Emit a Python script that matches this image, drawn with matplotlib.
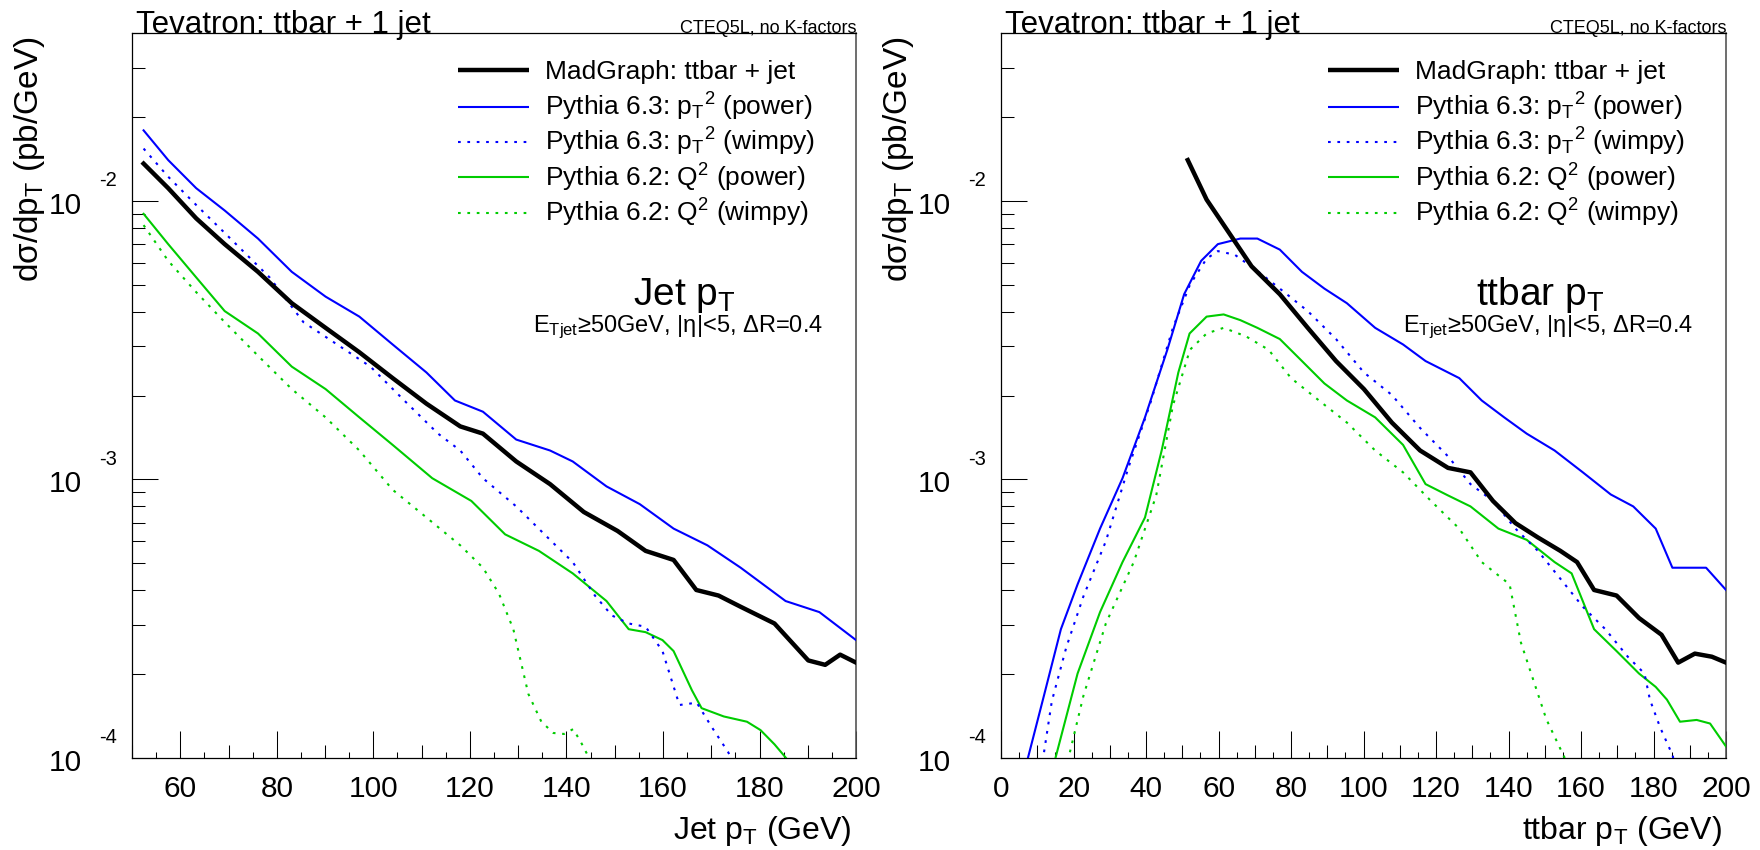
import matplotlib
matplotlib.use("Agg")
import matplotlib.pyplot as plt
import matplotlib.ticker as mticker
import numpy as np

plt.rcParams["font.family"] = ["Liberation Sans", "DejaVu Sans"]
plt.rcParams["mathtext.fontset"] = "custom"
plt.rcParams["mathtext.rm"] = "Liberation Sans"
plt.rcParams["mathtext.it"] = "Liberation Sans:italic"
plt.rcParams["mathtext.bf"] = "Liberation Sans:bold"

# ── palette / styles ─────────────────────────────────────────────────────
BLACK = "#000000"
BLUE = "#0000ff"
GREEN = "#00cc00"
DOTTED = (0, (1.3, 3.2))
TICK_W = 0.75

# ── data: left panel, jet pT ────────────────────────────────────────────
jet_mg_x = [52.4, 57.5, 63.3, 69.2, 76.1, 83.1, 90.1, 97.1, 104.0, 111.0, 118.0, 122.7,
            129.6, 136.6, 143.6, 150.6, 156.4, 162.2, 166.9, 171.5, 176.1, 183.1, 190.1,
            193.6, 196.7, 200.0]
jet_mg_y = [1.36e-2, 1.11e-2, 8.65e-3, 6.99e-3, 5.56e-3, 4.29e-3, 3.50e-3, 2.86e-3, 2.31e-3,
            1.87e-3, 1.55e-3, 1.46e-3, 1.16e-3, 9.62e-4, 7.64e-4, 6.53e-4, 5.54e-4, 5.14e-4,
            4.01e-4, 3.83e-4, 3.49e-4, 3.04e-4, 2.24e-4, 2.16e-4, 2.35e-4, 2.20e-4]

jet_p63pow_x = [52.4, 57.5, 63.3, 69.2, 76.1, 83.1, 90.1, 97.1, 104.0, 111.0, 116.9, 122.7,
                129.6, 136.6, 141.3, 148.3, 155.2, 162.2, 169.2, 176.1, 185.4, 192.4, 200.0]
jet_p63pow_y = [1.79e-2, 1.40e-2, 1.11e-2, 9.23e-3, 7.32e-3, 5.56e-3, 4.53e-3, 3.84e-3, 3.05e-3,
                2.42e-3, 1.92e-3, 1.75e-3, 1.39e-3, 1.27e-3, 1.16e-3, 9.44e-4, 8.15e-4, 6.66e-4,
                5.80e-4, 4.82e-4, 3.66e-4, 3.34e-4, 2.65e-4]

jet_p63wim_x = [52.4, 57.5, 63.3, 69.2, 78.5, 85.5, 92.5, 99.4, 106.4, 113.4, 118.0, 122.7,
                129.6, 136.6, 141.3, 145.9, 149.4, 152.9, 156.4, 159.9, 163.4, 167.0, 170.0,
                173.5, 175.5]
jet_p63wim_y = [1.54e-2, 1.22e-2, 9.66e-3, 7.67e-3, 5.31e-3, 3.67e-3, 3.05e-3, 2.54e-3, 1.92e-3,
                1.46e-3, 1.27e-3, 1.01e-3, 8.00e-4, 6.07e-4, 5.05e-4, 3.83e-4, 3.25e-4, 3.04e-4,
                2.96e-4, 2.42e-4, 1.55e-4, 1.58e-4, 1.30e-4, 1.05e-4, 0.90e-4]

jet_p62pow_x = [52.4, 57.5, 63.3, 69.2, 76.1, 83.1, 90.1, 97.1, 104.0, 112.2, 120.3, 127.3,
                134.3, 141.3, 148.3, 152.9, 156.4, 159.9, 162.2, 166.0, 168.0, 172.6, 177.4,
                180.2, 183.1, 185.5, 187.0]
jet_p62pow_y = [8.98e-3, 6.99e-3, 5.31e-3, 4.02e-3, 3.34e-3, 2.54e-3, 2.11e-3, 1.67e-3, 1.33e-3,
                1.01e-3, 8.37e-4, 6.35e-4, 5.54e-4, 4.60e-4, 3.66e-4, 2.90e-4, 2.83e-4, 2.65e-4,
                2.42e-4, 1.75e-4, 1.51e-4, 1.41e-4, 1.35e-4, 1.26e-4, 1.12e-4, 1.00e-4, 0.90e-4]

jet_p62wim_x = [52.4, 57.5, 63.3, 69.2, 76.1, 83.1, 90.1, 97.1, 104.0, 111.0, 118.0, 122.7,
                126.0, 129.0, 132.1, 134.8, 137.3, 139.5, 141.4, 143.0, 144.7, 146.0]
jet_p62wim_y = [8.18e-3, 6.09e-3, 4.70e-3, 3.67e-3, 2.78e-3, 2.11e-3, 1.67e-3, 1.27e-3, 9.18e-4,
                7.30e-4, 5.80e-4, 4.82e-4, 3.90e-4, 2.90e-4, 1.70e-4, 1.35e-4, 1.23e-4, 1.22e-4,
                1.27e-4, 1.14e-4, 1.00e-4, 0.90e-4]

# ── data: right panel, ttbar pT ─────────────────────────────────────────
tt_mg_x = [51.5, 56.7, 62.9, 69.1, 76.9, 84.6, 92.4, 100.1, 107.8, 115.6, 123.3, 129.5, 135.7,
           141.9, 148.1, 154.3, 158.9, 163.6, 169.8, 176.0, 182.2, 186.8, 191.4, 196.1, 200.0]
tt_mg_y = [1.40e-2, 1.01e-2, 7.67e-3, 5.82e-3, 4.62e-3, 3.50e-3, 2.66e-3, 2.11e-3, 1.60e-3,
           1.27e-3, 1.10e-3, 1.06e-3, 8.37e-4, 6.97e-4, 6.19e-4, 5.54e-4, 5.05e-4, 4.01e-4,
           3.83e-4, 3.18e-4, 2.77e-4, 2.20e-4, 2.37e-4, 2.31e-4, 2.20e-4]

tt_p63pow_x = [7.0, 7.4, 11.8, 16.5, 21.1, 27.3, 33.5, 39.7, 45.9, 50.5, 55.2, 59.8, 66.0, 70.7,
               76.9, 83.0, 89.2, 95.4, 103.2, 110.9, 117.1, 126.4, 132.6, 138.8, 145.0, 152.7,
               160.5, 168.2, 174.4, 180.6, 185.2, 189.9, 194.5, 200.0]
tt_p63pow_y = [0.90e-4, 1.00e-4, 1.67e-4, 2.90e-4, 4.20e-4, 6.66e-4, 1.01e-3, 1.67e-3, 2.93e-3,
               4.62e-3, 6.09e-3, 6.99e-3, 7.32e-3, 7.32e-3, 6.68e-3, 5.56e-3, 4.84e-3, 4.29e-3,
               3.50e-3, 3.05e-3, 2.66e-3, 2.31e-3, 1.92e-3, 1.67e-3, 1.46e-3, 1.27e-3, 1.06e-3,
               8.83e-4, 8.00e-4, 6.66e-4, 4.82e-4, 4.82e-4, 4.82e-4, 4.01e-4]

tt_p63wim_x = [11.2, 11.6, 14.0, 18.0, 22.7, 28.9, 35.1, 41.3, 47.4, 52.1, 56.7, 59.8, 64.5,
               70.7, 76.9, 84.6, 92.4, 100.1, 107.8, 115.6, 123.3, 129.5, 135.7, 141.9, 148.1,
               154.3, 160.5, 166.7, 172.9, 177.5, 179.0, 181.8, 185.3, 186.0]
tt_p63wim_y = [0.90e-4, 1.00e-4, 1.60e-4, 2.50e-4, 3.80e-4, 6.00e-4, 1.10e-3, 1.90e-3, 3.50e-3,
               5.00e-3, 6.20e-3, 6.60e-3, 6.40e-3, 5.60e-3, 4.84e-3, 4.02e-3, 3.19e-3, 2.42e-3,
               2.01e-3, 1.53e-3, 1.21e-3, 9.62e-4, 8.37e-4, 6.66e-4, 5.54e-4, 4.40e-4, 3.49e-4,
               2.90e-4, 2.31e-4, 2.01e-4, 1.62e-4, 1.29e-4, 1.02e-4, 0.90e-4]

tt_p62pow_x = [14.6, 15.0, 21.1, 27.3, 33.5, 39.7, 44.3, 48.9, 52.0, 56.7, 61.4, 66.0, 70.7,
               76.9, 83.0, 89.2, 95.4, 103.2, 110.9, 117.1, 123.3, 129.5, 137.2, 145.0, 152.7,
               157.4, 163.6, 169.8, 176.0, 180.6, 183.7, 187.3, 191.9, 195.6, 200.0]
tt_p62pow_y = [0.90e-4, 1.00e-4, 2.01e-4, 3.34e-4, 5.05e-4, 7.30e-4, 1.27e-3, 2.42e-3, 3.34e-3,
               3.84e-3, 3.91e-3, 3.73e-3, 3.50e-3, 3.19e-3, 2.66e-3, 2.21e-3, 1.92e-3, 1.67e-3,
               1.33e-3, 9.62e-4, 8.76e-4, 8.00e-4, 6.66e-4, 6.07e-4, 5.05e-4, 4.60e-4, 2.90e-4,
               2.42e-4, 2.01e-4, 1.80e-4, 1.62e-4, 1.35e-4, 1.37e-4, 1.33e-4, 1.10e-4]

tt_p62wim_x = [18.3, 18.6, 22.7, 28.9, 36.6, 42.8, 47.4, 52.1, 56.7, 61.4, 67.6, 73.8, 80.0,
               87.7, 95.4, 103.2, 110.9, 118.6, 126.4, 132.6, 140.3, 143.4, 150.4, 155.5, 156.5]
tt_p62wim_y = [0.90e-4, 1.00e-4, 1.67e-4, 3.04e-4, 5.05e-4, 8.76e-4, 1.84e-3, 2.92e-3, 3.34e-3,
               3.50e-3, 3.26e-3, 2.92e-3, 2.31e-3, 1.92e-3, 1.60e-3, 1.27e-3, 1.06e-3, 8.37e-4,
               6.66e-4, 5.05e-4, 4.20e-4, 2.60e-4, 1.38e-4, 1.00e-4, 0.90e-4]

# ── legend / labels ─────────────────────────────────────────────────────
legend_labels = [
    "MadGraph: ttbar + jet",
    r"Pythia 6.3: p$_{\mathregular{T}}$$^{\mathregular{2}}$ (power)",
    r"Pythia 6.3: p$_{\mathregular{T}}$$^{\mathregular{2}}$ (wimpy)",
    r"Pythia 6.2: Q$^{\mathregular{2}}$ (power)",
    r"Pythia 6.2: Q$^{\mathregular{2}}$ (wimpy)",
]
series_styles = [
    dict(color=BLACK, lw=3.2, ls="-", zorder=5),
    dict(color=BLUE, lw=1.5, ls="-", zorder=4),
    dict(color=BLUE, lw=1.5, ls=DOTTED, zorder=4),
    dict(color=GREEN, lw=1.5, ls="-", zorder=3),
    dict(color=GREEN, lw=1.5, ls=DOTTED, zorder=3),
]
decades = [-4, -3, -2]


def style_axis(ax, xlim, xlabel):
    ax.set_yscale("log")
    ax.set_xlim(*xlim)
    ax.set_ylim(1e-4, 4e-2)

    # x: three tick levels like ROOT (20 / 10 / 5)
    ax.xaxis.set_major_locator(mticker.MultipleLocator(20))
    ax.xaxis.set_minor_locator(mticker.MultipleLocator(10))
    ax.tick_params(axis="x", which="major", direction="in", length=19.4, width=TICK_W,
                   labelsize=21.5, pad=12, top=False)
    ax.tick_params(axis="x", which="minor", direction="in", length=9.4, width=TICK_W, top=False)
    sec = ax.secondary_xaxis("bottom")
    sec.xaxis.set_major_locator(mticker.MultipleLocator(5))
    sec.tick_params(direction="in", length=4.3, width=TICK_W, labelbottom=False)
    sec.spines["bottom"].set_visible(False)

    # y: log ticks, labels drawn ROOT-style below
    ax.yaxis.set_major_locator(mticker.LogLocator(base=10, numticks=10))
    ax.yaxis.set_minor_locator(mticker.LogLocator(base=10, subs=np.arange(2, 10), numticks=10))
    ax.yaxis.set_major_formatter(mticker.NullFormatter())
    ax.yaxis.set_minor_formatter(mticker.NullFormatter())
    ax.tick_params(axis="y", which="major", direction="in", length=18.7, width=TICK_W, right=False)
    ax.tick_params(axis="y", which="minor", direction="in", length=9.4, width=TICK_W, right=False)

    for e in decades:
        ax.annotate("10", xy=(0, 10.0 ** e), xycoords=ax.get_yaxis_transform(),
                    xytext=(-50, -12.7), textcoords="offset pixels",
                    ha="right", va="baseline", fontsize=21.5)
        ax.annotate(f"{e}", xy=(0, 10.0 ** e), xycoords=ax.get_yaxis_transform(),
                    xytext=(-15, 14.7), textcoords="offset pixels",
                    ha="right", va="baseline", fontsize=14.5)

    for side in ["left", "bottom", "top"]:
        ax.spines[side].set_color("black")
        ax.spines[side].set_linewidth(0.9)
    ax.spines["right"].set_color("#555555")
    ax.spines["right"].set_linewidth(1.2)

    # titles (ROOT style, aligned to the end of the axes)
    ax.text(0.994, -0.1117, xlabel, transform=ax.transAxes, ha="right", va="baseline",
            fontsize=23)
    ax.text(-102 / 724, 0.996, r"d$\mathregular{\sigma}$/dp$_{\mathregular{T}}$ (pb/GeV)",
            transform=ax.transAxes, rotation=90, ha="center", va="top", fontsize=24)
    ax.text(0.006, 1.0, "Tevatron: ttbar + 1 jet", transform=ax.transAxes,
            ha="left", va="baseline", fontsize=22.5)
    ax.text(1.0, 1.0, "CTEQ5L, no K-factors", transform=ax.transAxes,
            ha="right", va="baseline", fontsize=13)


def draw_key(ax):
    rows = [0.949, 0.898, 0.850, 0.801, 0.752]
    for label, style, y in zip(legend_labels, series_styles, rows):
        ax.plot([0.4503, 0.5483], [y, y], transform=ax.transAxes, color=style["color"],
                lw=style["lw"], ls=style["ls"], solid_capstyle="butt", clip_on=False)
        ax.text(0.5704, y - 0.0124, label, transform=ax.transAxes, ha="left",
                va="baseline", fontsize=19)


def draw_panel(ax, series, xlim, xlabel, title):
    for (x, y), style in zip(series, series_styles):
        ax.plot(x, y, color=style["color"], lw=style["lw"], ls=style["ls"],
                zorder=style["zorder"], solid_joinstyle="round")
    style_axis(ax, xlim, xlabel)
    draw_key(ax)
    ax.text(1 - 121 / 725, 0.625, title, transform=ax.transAxes, ha="right",
            va="baseline", fontsize=28)
    ax.text(1 - 33 / 725, 0.5876,
            r"E$_{\mathregular{Tjet}}$≥50GeV, |η|<5, ΔR=0.4",
            transform=ax.transAxes, ha="right", va="baseline", fontsize=17)


fig = plt.figure(figsize=(17.6, 8.5), dpi=100)
ax_jet = fig.add_axes([0.0750, 0.1082, 0.4114, 0.8529])
ax_tt = fig.add_axes([0.5688, 0.1082, 0.4119, 0.8529])

draw_panel(
    ax_jet,
    [(jet_mg_x, jet_mg_y), (jet_p63pow_x, jet_p63pow_y), (jet_p63wim_x, jet_p63wim_y),
     (jet_p62pow_x, jet_p62pow_y), (jet_p62wim_x, jet_p62wim_y)],
    (50, 200), r"Jet p$_{\mathregular{T}}$ (GeV)", r"Jet p$_{\mathregular{T}}$",
)
draw_panel(
    ax_tt,
    [(tt_mg_x, tt_mg_y), (tt_p63pow_x, tt_p63pow_y), (tt_p63wim_x, tt_p63wim_y),
     (tt_p62pow_x, tt_p62pow_y), (tt_p62wim_x, tt_p62wim_y)],
    (0, 200), r"ttbar p$_{\mathregular{T}}$ (GeV)", r"ttbar p$_{\mathregular{T}}$",
)

fig.savefig("out.png", dpi=100)
